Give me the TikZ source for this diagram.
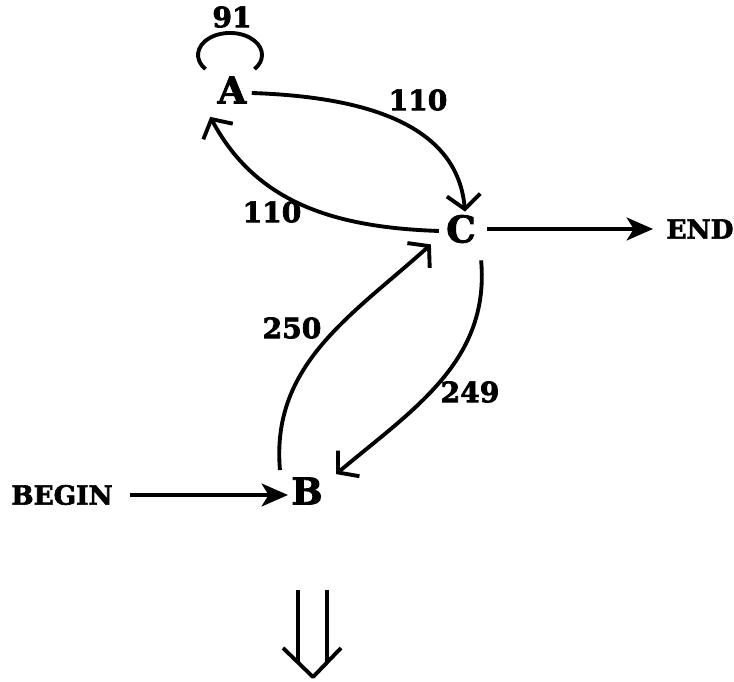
\documentclass[tikz,border=0pt]{standalone}
\usepackage{fontspec}
\setmainfont{DejaVu Serif}[BoldFeatures={FakeBold=2.5}]
\usetikzlibrary{arrows.meta, calc}
\tikzset{
	barb/.tip={Straight Barb[length=8pt, width=19pt, line width=2.2pt]},
	solid tip/.tip={Stealth[length=15pt, width=13pt, inset=4pt]},
	state/.style={font=\fontsize{21}{21}\selectfont\bfseries, inner sep=2pt},
	word/.style={font=\fontsize{15}{15}\selectfont\bfseries, inner sep=2pt},
	count/.style={font=\fontsize{16}{16}\selectfont\bfseries}
}
\begin{document}
\begin{tikzpicture}[x=0.02cm, y=0.02cm, line width=2.2pt]
	\useasboundingbox (0,0) rectangle (734,682);
	% States
	\node[state] (A) at (232,592) {A};
	\node[state] (C) at (461,453) {C};
	\node[state] (B) at (307,191) {B};
	\node[word] (begin) at (62,187) {BEGIN};
	\node[word] (end) at (700,453) {END};
	
	% Self loop on A
	\draw ($(A)+(-26.5,20.9)$) arc[start angle=220, end angle=-40, x radius=32, y radius=22];
	\node[count] (n91) at (232,665) {91};
	
	% Transitions
	\draw[-barb] ($(A.east)+(0,-3)$) to[out=-2, in=95] ($(C.north)+(4,-2)$);
	\draw[-barb] ($(C.west)+(-2,-2)$) to[out=178, in=-62] ($(A.south west)+(-2,-8)$);
	\draw[-barb] ($(B.north west)+(-6,2)$) to[out=95, in=222] ($(C.south west)+(-10,4)$);
	\draw[-barb] ($(C.south east)+(0,-12)$) to[out=-85, in=40] ($(B.north east)+(8,-2)$);
	\node[count] (ac) at (418,582) {110};
	\node[count] (ca) at (272,470) {110};
	\node[count] (bc) at (292,354) {250};
	\node[count] (cb) at (470,290) {249};
	
	% Begin and end
	\draw[-solid tip] ($(begin.east)+(12,0)$) -- ($(B.west)+(2,-4)$);
	\draw[-solid tip] ($(C.east)+(6,0)$) -- ($(end.west)+(-8,0)$);
	
	% Down arrow
	\draw (298,92) -- (298,20) (327,92) -- (327,20);
	\draw[line join=round] (283,34) -- (313,5) -- (341,34);
\end{tikzpicture}
\end{document}
